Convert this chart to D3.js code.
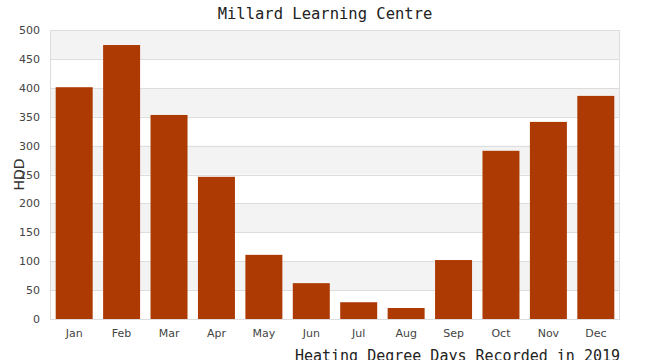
<!DOCTYPE html>
<html><head><meta charset="utf-8">
<script src="https://cdn.jsdelivr.net/npm/d3@7/dist/d3.min.js"></script>
<style>body{margin:0;background:#fff}svg{display:block}</style>
</head><body><svg id="c" width="650" height="360"></svg>
<script>
const months = ["Jan","Feb","Mar","Apr","May","Jun","Jul","Aug","Sep","Oct","Nov","Dec"];
const hdd = [401, 474, 353, 246, 111, 62, 29, 19, 102, 291, 341, 386];
const yTicks = [0,50,100,150,200,250,300,350,400,450,500];
const title = "Millard Learning Centre";
const xTitle = "Heating Degree Days Recorded in 2019";
const yTitle = "HDD";

const svg = d3.select("#c");
const m = {l:50, r:30, t:30, b:41};
const W = 650, H = 360;
const x = d3.scaleBand().domain(months).range([m.l, W-m.r]).paddingInner(0.22).paddingOuter(0.12);
const y = d3.scaleLinear().domain([0,500]).range([H-m.b, m.t]);

// alternating bands
const bands = yTicks.slice(0,-1).map((v,i)=>[v, yTicks[i+1], i]);
svg.append("g").selectAll("rect").data(bands.filter(d=>d[2]%2===1)).join("rect")
  .attr("x", m.l).attr("width", W-m.r-m.l)
  .attr("y", d=>y(d[1])).attr("height", d=>y(d[0])-y(d[1]))
  .attr("fill", "#f3f3f3");
// grid
svg.append("g").selectAll("line").data(yTicks).join("line")
  .attr("x1", m.l).attr("x2", W-m.r)
  .attr("y1", d=>Math.round(y(d))+0.5).attr("y2", d=>Math.round(y(d))+0.5)
  .attr("stroke", "#dddddd");
// border
svg.append("rect").attr("x", m.l+0.5).attr("y", m.t+0.5)
  .attr("width", W-m.r-m.l-1).attr("height", H-m.b-m.t)
  .attr("fill","none").attr("stroke","#dddddd");

// bars
svg.append("g").selectAll("rect").data(hdd).join("rect")
  .attr("x", (d,i)=>x(months[i])).attr("width", x.bandwidth())
  .attr("y", d=>y(d)).attr("height", d=>y(0)-y(d))
  .attr("fill", "#ad3a02");

// axes
const ya = svg.append("g").attr("transform", `translate(${m.l},0)`)
  .call(d3.axisLeft(y).tickValues(yTicks).tickSize(0).tickPadding(10));
ya.select(".domain").remove();
ya.selectAll("text").attr("font-family","DejaVu Sans, sans-serif").attr("font-size",11).attr("fill","#444");

const xa = svg.append("g").attr("transform", `translate(0,${H-m.b})`)
  .call(d3.axisBottom(x).tickSize(0).tickPadding(10));
xa.select(".domain").remove();
xa.selectAll("text").attr("font-family","DejaVu Sans, sans-serif").attr("font-size",11).attr("fill","#444");

svg.append("text").attr("x", 325).attr("y", 19).attr("text-anchor","middle")
  .attr("font-family","DejaVu Sans Mono, monospace").attr("font-size",15.5).attr("fill","#222").text(title);
svg.append("text").attr("x", W-m.r).attr("y", 361).attr("text-anchor","end")
  .attr("font-family","DejaVu Sans Mono, monospace").attr("font-size",15).attr("fill","#222").text(xTitle);
svg.append("text").attr("transform", `translate(24,${(m.t+H-m.b)/2}) rotate(-90)`).attr("text-anchor","middle")
  .attr("font-family","DejaVu Sans, sans-serif").attr("font-size",14).attr("fill","#333").text(yTitle);
</script></body></html>
